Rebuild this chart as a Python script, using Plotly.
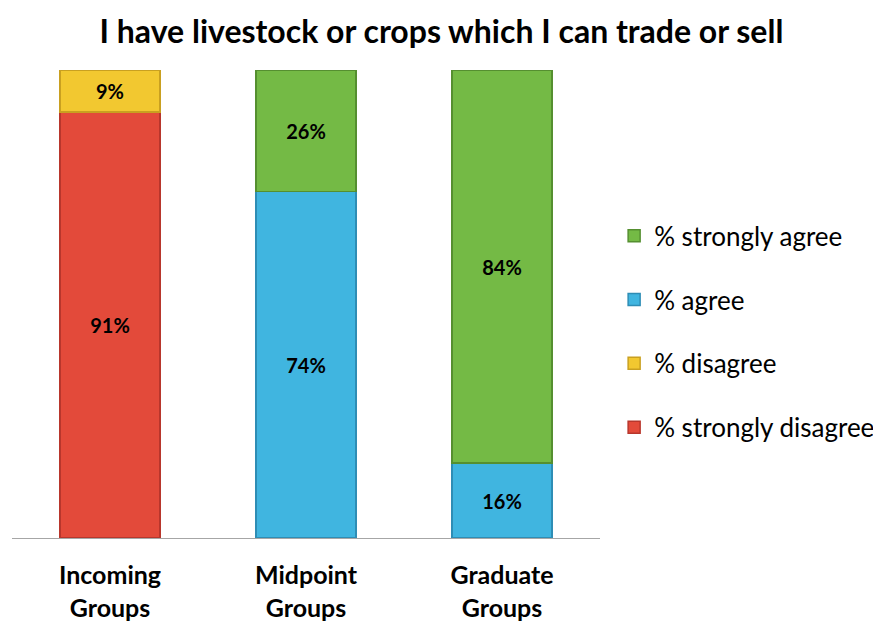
import plotly.graph_objects as go

categories = ["Incoming<br>Groups", "Midpoint<br>Groups", "Graduate<br>Groups"]
strongly_disagree = [91, None, None]
disagree = [9, None, None]
agree = [None, 74, 16]
strongly_agree = [None, 26, 84]

series = [
    ("% strongly disagree", strongly_disagree, "#E34A3A", "#B8362C", 4),
    ("% disagree", disagree, "#F2C830", "#C9A020", 3),
    ("% agree", agree, "#40B5E0", "#2E8DB5", 2),
    ("% strongly agree", strongly_agree, "#74BA45", "#558F30", 1),
]

fig = go.Figure()
for name, vals, col, edge, rank in series:
    fig.add_trace(go.Bar(
        x=categories, y=vals, name=name, legendgroup=name, legendrank=rank,
        marker=dict(color=col, line=dict(color=edge, width=1.5)),
        texttemplate="%{y}%", textposition="inside", insidetextanchor="middle",
        textfont=dict(family="Lato", size=20, color="black", weight="bold"),
        width=0.51,
    ))

fig.update_layout(
    barmode="stack",
    width=881, height=624,
    margin=dict(l=4, r=289, t=62, b=94),
    paper_bgcolor="white", plot_bgcolor="white",
    title=dict(text="<b>I have livestock or crops which I can trade or sell</b>",
               x=0.492, xanchor="center", xref="container",
               y=0.962, yanchor="middle", yref="container",
               font=dict(family="Lato", size=32, color="black")),
    font=dict(family="Lato", color="black"),
    showlegend=True,
    legend=dict(traceorder="grouped", xref="container", x=0.688, xanchor="left",
                yref="container", y=0.481, yanchor="middle",
                font=dict(family="Lato", size=26, color="black"),
                tracegroupgap=27, itemwidth=30),
    xaxis=dict(showline=True, linecolor="#A6A6A6", linewidth=1, ticks="",
               tickfont=dict(family="Lato", size=25, color="black", weight="bold"),
               ticklabelstandoff=15, showgrid=False),
    yaxis=dict(range=[0, 100], visible=False, showgrid=False),
)

fig.write_html("out.html")
